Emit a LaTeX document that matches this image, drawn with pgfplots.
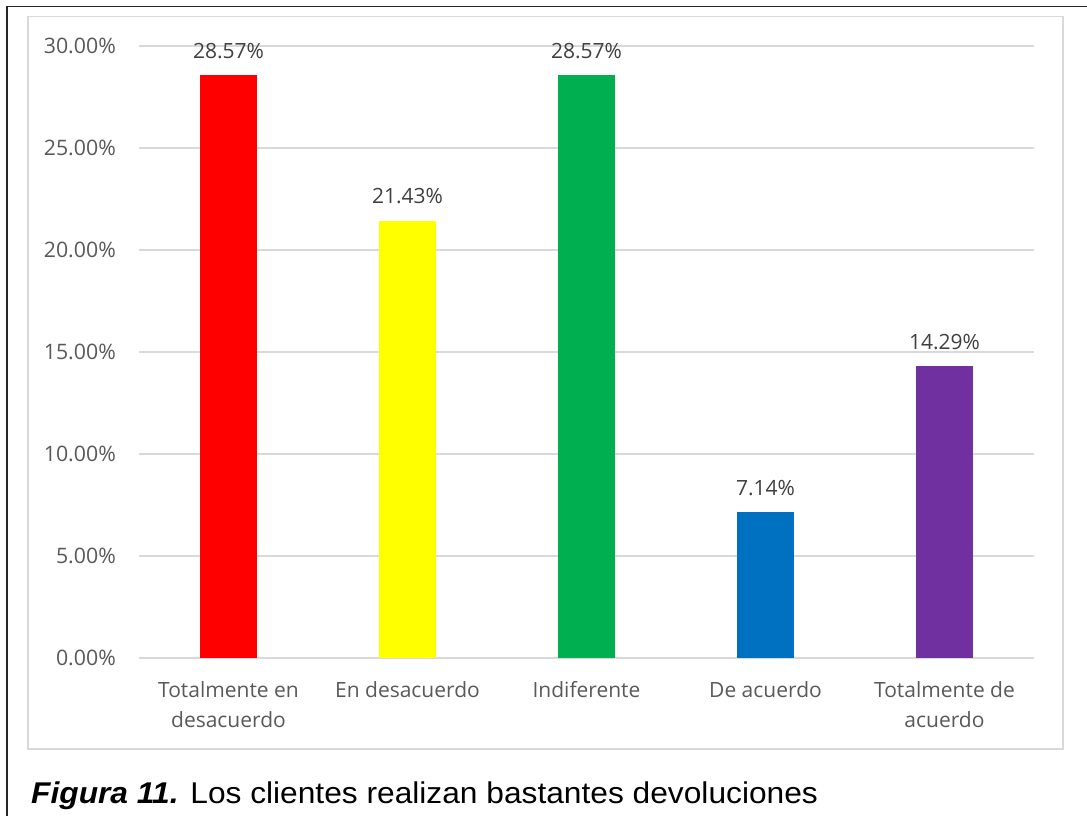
\documentclass[border=0pt]{standalone}
\usepackage{pgfplots}
\pgfplotsset{compat=1.18}
\usepackage{fontspec}
\setmainfont{Open Sans}
\newfontfamily\capfont{Liberation Sans}
\definecolor{gridc}{HTML}{D9D9D9}
\definecolor{tickc}{HTML}{595959}
\definecolor{valc}{HTML}{404040}
\definecolor{c1}{HTML}{FF0000}
\definecolor{c2}{HTML}{FFFF00}
\definecolor{c3}{HTML}{00B050}
\definecolor{c4}{HTML}{0070C0}
\definecolor{c5}{HTML}{7030A0}
\begin{document}
\begin{tikzpicture}[x=1pt,y=1pt]
\useasboundingbox (0,0) rectangle (1087,816);
% outer frame
\draw[line width=1.6pt,black!85] (7,0) -- (7,809.5) -- (1087,809.5);
% chart area border
\draw[line width=1.5pt,gridc] (28,67) rectangle (1063,799.5);
\begin{axis}[
  at={(139pt,158pt)}, anchor=south west,
  scale only axis, width=895pt, height=612pt,
  xmin=-0.5, xmax=4.5, ymin=0, ymax=30,
  axis line style={draw=none},
  major tick length=0pt,
  ytick={0,5,10,15,20,25,30},
  yticklabels={0.00\%,5.00\%,10.00\%,15.00\%,20.00\%,25.00\%,30.00\%},
  ymajorgrids, grid style={gridc, line width=1.5pt},
  xtick={0,1,2,3,4},
  xticklabels={{Totalmente en\\desacuerdo},{En desacuerdo},{Indiferente},{De acuerdo},{Totalmente de\\acuerdo}},
  yticklabel style={font=\fontsize{21.3}{30}\selectfont, text=tickc, anchor=east, inner sep=0pt, xshift=-23pt},
  xticklabel style={font=\fontsize{21}{30}\selectfont, text=tickc, align=center, anchor=north, inner sep=0pt, yshift=-23pt},
  ybar, bar width=57pt, bar shift=0pt,
  point meta=explicit symbolic,
  nodes near coords,
  every node near coord/.append style={font=\fontsize{21}{25}\selectfont, text=valc, anchor=base, inner sep=0pt, yshift=17pt},
  clip=false,
]
\addplot[fill=c1, draw=none] coordinates {(0,28.57) [28.57\%]};
\addplot[fill=c2, draw=none] coordinates {(1,21.43) [21.43\%]};
\addplot[fill=c3, draw=none] coordinates {(2,28.57) [28.57\%]};
\addplot[fill=c4, draw=none] coordinates {(3,7.14) [7.14\%]};
\addplot[fill=c5, draw=none] coordinates {(4,14.29) [14.29\%]};
\end{axis}
\node[anchor=base west, inner sep=0pt, font=\capfont\fontsize{30}{34}\selectfont] at (31,12.5) {\scalebox{1.057}[1]{\textbf{\textit{Figura 11.}} Los clientes realizan bastantes devoluciones}};
\end{tikzpicture}
\end{document}
